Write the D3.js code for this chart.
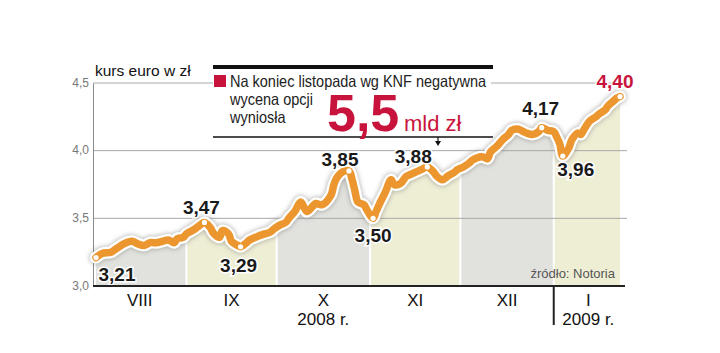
<!DOCTYPE html>
<html>
<head>
<meta charset="utf-8">
<script src="https://cdn.jsdelivr.net/npm/d3@7"></script>
<style>
  body { margin: 0; background: #fff; }
  svg text { font-family: "Liberation Sans", Arial, sans-serif; }
</style>
</head>
<body>
<div id="chart"></div>
<script>
// kurs euro w zł, sierpień 2008 - styczeń 2009
const dates = [
  "2008-08-02","2008-08-04","2008-08-07","2008-08-09","2008-08-12","2008-08-14","2008-08-16","2008-08-18",
  "2008-08-20","2008-08-22","2008-08-24","2008-08-26","2008-08-28","2008-08-29","2008-08-31",
  "2008-09-01","2008-09-03","2008-09-05","2008-09-07","2008-09-09","2008-09-10","2008-09-12","2008-09-13",
  "2008-09-15","2008-09-16","2008-09-18","2008-09-19","2008-09-21","2008-09-22","2008-09-24","2008-09-25",
  "2008-09-27","2008-09-29","2008-09-30",
  "2008-10-02","2008-10-04","2008-10-05","2008-10-07","2008-10-09","2008-10-11","2008-10-13","2008-10-14",
  "2008-10-16","2008-10-19","2008-10-20","2008-10-21","2008-10-23","2008-10-25","2008-10-26","2008-10-27",
  "2008-10-28","2008-10-30","2008-10-31",
  "2008-11-02","2008-11-03","2008-11-04","2008-11-06","2008-11-08","2008-11-09","2008-11-11","2008-11-13",
  "2008-11-14","2008-11-18","2008-11-20","2008-11-22","2008-11-23","2008-11-25","2008-11-27","2008-11-29",
  "2008-11-30",
  "2008-12-02","2008-12-04","2008-12-05","2008-12-08","2008-12-09","2008-12-10","2008-12-11","2008-12-13",
  "2008-12-15","2008-12-17","2008-12-18","2008-12-20","2008-12-22","2008-12-23","2008-12-25","2008-12-27",
  "2008-12-28","2008-12-30",
  "2009-01-01","2009-01-02","2009-01-03","2009-01-04","2009-01-06","2009-01-07","2009-01-09","2009-01-10",
  "2009-01-11","2009-01-13","2009-01-15","2009-01-16","2009-01-18","2009-01-19","2009-01-21","2009-01-22",
  "2009-01-23"
];
const values = [
  3.21,3.24,3.25,3.28,3.32,3.33,3.31,3.30,
  3.32,3.32,3.33,3.34,3.32,3.35,3.36,
  3.385,3.41,3.44,3.47,3.43,3.39,3.36,3.41,
  3.385,3.33,3.30,3.29,3.32,3.34,3.36,3.37,
  3.385,3.40,3.42,
  3.45,3.47,3.50,3.55,3.62,3.55,3.59,3.61,
  3.60,3.67,3.75,3.80,3.845,3.85,3.79,3.70,
  3.62,3.60,3.56,
  3.50,3.55,3.60,3.69,3.785,3.75,3.755,3.81,
  3.82,3.86,3.88,3.845,3.815,3.785,3.815,3.84,
  3.86,
  3.88,3.91,3.93,3.955,3.95,3.94,3.99,4.03,
  4.08,4.12,4.15,4.16,4.14,4.13,4.12,4.14,
  4.17,4.15,
  4.14,4.10,4.05,3.96,4.02,4.08,4.13,4.12,
  4.155,4.22,4.25,4.27,4.30,4.33,4.37,4.39,
  4.40
];

// zaznaczone punkty
const markDates = ["2008-08-02","2008-09-07","2008-09-19","2008-10-25","2008-11-02","2008-11-20","2008-12-28","2009-01-04","2009-01-23"];
const markLabels = ["3,21","3,47","3,29","3,85","3,50","3,88","4,17","3,96","4,40"];

const monthStarts = ["2008-08-01","2008-09-01","2008-10-01","2008-11-01","2008-12-01","2009-01-01","2009-01-24"];
const monthLabels = ["VIII","IX","X","XI","XII","I"];
const yearLabels = ["","","2008 r.","","","2009 r."];

const yTicks = [3.0, 3.5, 4.0, 4.5];
const yTickLabels = ["3,0","3,5","4,0","4,5"];

// label offsets (px) from the marked point
const labelOffsets = [[21,23],[-3,-8],[-2,25],[-9,-5],[0,24],[-14,-4],[-1,-13],[13,20],[-5,-9]];

const width = 720, height = 353;
const parse = d3.timeParse("%Y-%m-%d");
const data = dates.map((d, i) => ({ date: parse(d), value: values[i] }));
const bounds = monthStarts.map(parse);

const x = d3.scaleTime()
  .domain([bounds[0], bounds[bounds.length - 1]])
  .range([93, 623]);
const y = d3.scaleLinear()
  .domain([3.0, 4.5])
  .range([286, 83]);

const svg = d3.select("#chart").append("svg")
  .attr("width", width)
  .attr("height", height);

const defs = svg.append("defs");
defs.append("filter").attr("id", "shadow")
  .attr("x", "-10%").attr("y", "-20%").attr("width", "120%").attr("height", "140%")
  .append("feGaussianBlur").attr("stdDeviation", 2);

const colGray = "#e1e1dd", colYellow = "#eeeed5";
const orange = "#ec9630", red = "#c8143c";

// month area bands under the curve
const area = d3.area()
  .x(d => x(d.date))
  .y0(y(3.0))
  .y1(d => y(d.value))
  .curve(d3.curveCatmullRom.alpha(0.5));

monthLabels.forEach((m, i) => {
  const x0 = x(bounds[i]) + (i === 0 ? 0 : 1);
  const x1 = x(bounds[i + 1]) - (i === monthLabels.length - 1 ? 0 : 1);
  defs.append("clipPath").attr("id", "clip" + i)
    .append("rect")
    .attr("x", x0).attr("y", 0)
    .attr("width", x1 - x0).attr("height", height);
  svg.append("path")
    .datum(data)
    .attr("clip-path", `url(#clip${i})`)
    .attr("fill", i % 2 === 0 ? colGray : colYellow)
    .attr("d", area);
});

// gridlines
svg.append("g")
  .selectAll("line")
  .data(yTicks.slice(1))
  .enter().append("line")
  .attr("x1", 93).attr("x2", 627)
  .attr("y1", d => y(d)).attr("y2", d => y(d))
  .attr("stroke", "#a8a8a8").attr("stroke-width", 1);

// y axis
const yAxis = svg.append("g")
  .attr("transform", "translate(93,0)")
  .call(d3.axisLeft(y).tickValues(yTicks).tickSize(0).tickPadding(4)
    .tickFormat((d, i) => yTickLabels[i]));
yAxis.select(".domain").attr("stroke", "#8a8a8a");
yAxis.selectAll("text")
  .style("font-size", "12px")
  .style("fill", "#777")
  .attr("dy", "0.25em");

// title
svg.append("text")
  .attr("x", 95).attr("y", 76)
  .style("font-size", "15.5px")
  .style("fill", "#111")
  .text("kurs euro w zł");

// annotation box
const box = svg.append("g");
box.append("rect")
  .attr("x", 213).attr("y", 65).attr("width", 278).attr("height", 72)
  .attr("fill", "#fff");
box.append("rect")
  .attr("x", 213).attr("y", 65).attr("width", 280).attr("height", 4)
  .attr("fill", "#111");
box.append("line")
  .attr("x1", 213).attr("x2", 493).attr("y1", 137).attr("y2", 137)
  .attr("stroke", "#111").attr("stroke-width", 1.5);
box.append("line")
  .attr("x1", 438).attr("x2", 438).attr("y1", 137).attr("y2", 142)
  .attr("stroke", "#111").attr("stroke-width", 1.2);
box.append("path")
  .attr("d", "M435,141 L441,141 L438,146 Z")
  .attr("fill", "#111");
box.append("rect")
  .attr("x", 214).attr("y", 75).attr("width", 12).attr("height", 12)
  .attr("fill", red);
const boxLines = ["Na koniec listopada wg KNF negatywna", "wycena opcji", "wyniosła"];
const notes = box.selectAll("text.note")
  .data(boxLines)
  .enter().append("text")
  .attr("class", "note")
  .attr("x", 230)
  .attr("y", (d, i) => 87 + i * 18)
  .style("font-size", "16.5px")
  .style("fill", "#222")
  .text(d => d);
// condense the note text to the narrow newspaper face
const squeeze = 256 / notes.node().getComputedTextLength();
notes.each(function () {
  d3.select(this)
    .attr("textLength", this.getComputedTextLength() * squeeze)
    .attr("lengthAdjust", "spacingAndGlyphs");
});
box.append("text")
  .attr("x", 327).attr("y", 131)
  .style("font-size", "52px")
  .style("font-weight", "bold")
  .style("fill", red)
  .text("5,5");
box.append("text")
  .attr("x", 404).attr("y", 131)
  .style("font-size", "22px")
  .style("fill", red)
  .text("mld zł");

// line
const line = d3.line()
  .x(d => x(d.date))
  .y(d => y(d.value))
  .curve(d3.curveCatmullRom.alpha(0.5));

svg.append("path")
  .datum(data)
  .attr("fill", "none")
  .attr("stroke", "#777")
  .attr("stroke-opacity", 0.45)
  .attr("stroke-width", 14)
  .attr("stroke-linecap", "round")
  .attr("stroke-linejoin", "round")
  .attr("filter", "url(#shadow)")
  .attr("d", line);
svg.append("path")
  .datum(data)
  .attr("fill", "none")
  .attr("stroke", "#fff")
  .attr("stroke-width", 12)
  .attr("stroke-linecap", "round")
  .attr("stroke-linejoin", "round")
  .attr("d", line);
svg.append("path")
  .datum(data)
  .attr("fill", "none")
  .attr("stroke", orange)
  .attr("stroke-width", 7.5)
  .attr("stroke-linecap", "round")
  .attr("stroke-linejoin", "round")
  .attr("d", line);

// marked points
const marks = markDates.map((d, i) => {
  const p = data.find(e => +e.date === +parse(d));
  return { date: p.date, value: p.value, label: markLabels[i], off: labelOffsets[i] };
});

svg.append("g")
  .selectAll("circle")
  .data(marks)
  .enter().append("circle")
  .attr("cx", d => x(d.date))
  .attr("cy", d => y(d.value))
  .attr("r", 2.6)
  .attr("fill", "#fff");

svg.append("g")
  .selectAll("text")
  .data(marks)
  .enter().append("text")
  .attr("x", d => x(d.date) + d.off[0])
  .attr("y", d => y(d.value) + d.off[1])
  .attr("text-anchor", "middle")
  .style("font-size", "19px")
  .style("font-weight", "bold")
  .style("fill", (d, i) => i === marks.length - 1 ? red : "#1a1a1a")
  .style("stroke", "#fff")
  .style("stroke-width", 3)
  .style("paint-order", "stroke")
  .text(d => d.label);

// source
svg.append("text")
  .attr("x", 615).attr("y", 278)
  .attr("text-anchor", "end")
  .style("font-size", "13px")
  .style("fill", "#555")
  .text("źródło: Notoria");

// x axis
svg.append("line")
  .attr("x1", 93).attr("x2", 625)
  .attr("y1", 286).attr("y2", 286)
  .attr("stroke", "#222").attr("stroke-width", 2);

svg.append("line")
  .attr("x1", x(bounds[5])).attr("x2", x(bounds[5]))
  .attr("y1", 286).attr("y2", 325)
  .attr("stroke", "#222").attr("stroke-width", 2);

const mid = i => (x(bounds[i]) + x(bounds[i + 1])) / 2;
svg.append("g")
  .selectAll("text")
  .data(monthLabels)
  .enter().append("text")
  .attr("x", (d, i) => mid(i))
  .attr("y", 306)
  .attr("text-anchor", "middle")
  .style("font-size", "17px")
  .style("fill", "#111")
  .text(d => d);

svg.append("g")
  .selectAll("text")
  .data(yearLabels)
  .enter().append("text")
  .attr("x", (d, i) => mid(i))
  .attr("y", 325)
  .attr("text-anchor", "middle")
  .style("font-size", "17px")
  .style("fill", "#111")
  .text(d => d);
</script>
</body>
</html>
